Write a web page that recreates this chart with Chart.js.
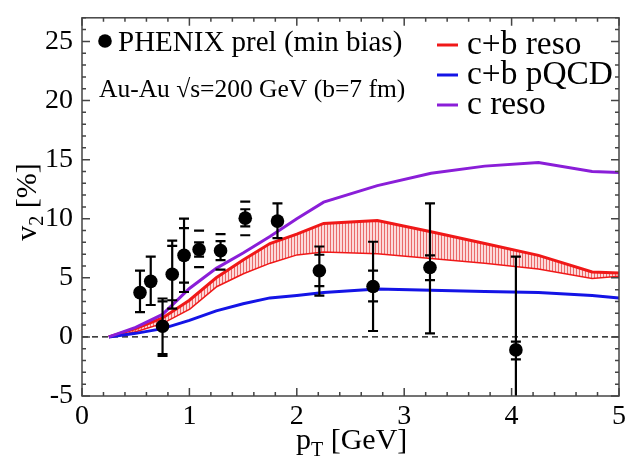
<!DOCTYPE html>
<html>
<head>
<meta charset="utf-8">
<script src="https://cdn.jsdelivr.net/npm/chart.js@4/dist/chart.umd.min.js"></script>
<style>
html, body { margin: 0; padding: 0; background: #fff; }
#wrap { width: 634px; height: 461px; }
</style>
</head>
<body>
<div id="wrap"><canvas id="c"></canvas></div>
<script>
// model curves (pT in GeV, v2 in %)
const curvePt = [0.25, 0.5, 0.75, 1.0, 1.25, 1.5, 1.75, 2.0, 2.25, 2.75, 3.25, 3.75, 4.25, 4.75, 5.0];
const cbResoUpper = [0, 0.7, 1.6, 3.1, 5.0, 6.5, 7.9, 8.7, 9.6, 9.85, 8.9, 7.9, 6.9, 5.5, 5.4];
const cbResoLower = [0, 0.5, 1.2, 2.4, 4.3, 5.4, 6.3, 7.0, 7.25, 7.1, 6.7, 6.3, 5.8, 5.0, 5.2];
const cbPqcd = [0, 0.3, 0.7, 1.4, 2.2, 2.8, 3.3, 3.5, 3.75, 4.05, 3.95, 3.85, 3.75, 3.5, 3.3];
const cReso = [0, 0.8, 1.9, 4.1, 5.8, 7.1, 8.5, 10.0, 11.4, 12.8, 13.85, 14.45, 14.75, 14.0, 13.9];

// PHENIX preliminary points
const dataPt = [0.54, 0.64, 0.75, 0.84, 0.95, 1.09, 1.29, 1.52, 1.82, 2.21, 2.71, 3.24, 4.04];
const dataV2 = [3.75, 4.7, 0.9, 5.3, 6.9, 7.4, 7.3, 10.05, 9.8, 5.6, 4.27, 5.87, -1.1];
const statLo = [2.1, 2.7, -1.45, 2.4, 3.8, 6.8, 6.5, 9.35, 8.35, 3.5, 0.5, 0.3, -8];
const statHi = [5.6, 6.8, 3.25, 8.15, 10.0, 8.0, 8.1, 10.8, 11.3, 7.65, 8.05, 11.3, 6.8];
const sysLo = [null, null, -1.6, 3.1, 4.6, 5.9, 5.7, 8.6, null, 4.3, 3.0, 4.8, -1.9];
const sysHi = [null, null, 3.0, 7.7, 9.2, 9.0, 8.7, 11.45, null, 6.95, 5.6, 6.9, -0.4];

const xTicks = [0, 1, 2, 3, 4, 5];
const yTicks = [-5, 0, 5, 10, 15, 20, 25];
const seriesNames = ['c+b reso', 'c+b pQCD', 'c reso'];
const dataName = 'PHENIX prel (min bias)';
const systemText = 'Au-Au √s=200 GeV (b=7 fm)';

const RED = '#f01818', BLUE = '#1414e6', PURPLE = '#8a1ed8';
const SERIF = '"Liberation Serif", "Times New Roman", serif';

const xy = (xs, ys) => xs.map((x, i) => ({ x, y: ys[i] }));

function hatch() {
    const c = document.createElement('canvas');
    c.width = 3; c.height = 2;
    const g = c.getContext('2d');
    g.fillStyle = '#fcdada';
    g.fillRect(0, 0, 3, 2);
    g.fillStyle = '#ea6a6a';
    g.fillRect(0, 0, 1, 2);
    return g.createPattern(c, 'repeat');
}

// font size that makes a string about w pixels wide
function fitFont(ctx, text, w) {
    ctx.font = '100px ' + SERIF;
    return Math.round(100 * w / ctx.measureText(text).width * 10) / 10;
}

const frame = {
    id: 'frame',
    beforeDatasetDraw(chart, args) {
        if (args.index !== 0) return;
        // error bars go under the dots
        const { ctx, chartArea: a, scales: { x, y } } = chart;
        ctx.save();
        ctx.beginPath();
        ctx.rect(a.left, a.top, a.right - a.left, a.bottom - a.top);
        ctx.clip();
        ctx.strokeStyle = '#000';
        ctx.lineWidth = 2.2;
        const cap = 5;
        dataPt.forEach((p, i) => {
            const px = x.getPixelForValue(p);
            const lo = y.getPixelForValue(statLo[i]), hi = y.getPixelForValue(statHi[i]);
            ctx.beginPath();
            ctx.moveTo(px, lo); ctx.lineTo(px, hi);
            ctx.moveTo(px - cap, lo); ctx.lineTo(px + cap, lo);
            ctx.moveTo(px - cap, hi); ctx.lineTo(px + cap, hi);
            if (sysLo[i] !== null) {
                const sl = y.getPixelForValue(sysLo[i]), sh = y.getPixelForValue(sysHi[i]);
                ctx.moveTo(px - cap, sl); ctx.lineTo(px + cap, sl);
                ctx.moveTo(px - cap, sh); ctx.lineTo(px + cap, sh);
            }
            ctx.stroke();
        });
        ctx.restore();
    },
    afterDraw(chart) {
        const { ctx, chartArea: a, scales: { x, y } } = chart;
        ctx.save();
        // frame + inward ticks on all sides
        ctx.strokeStyle = '#444';
        ctx.lineWidth = 1.5;
        ctx.strokeRect(a.left, a.top, a.right - a.left, a.bottom - a.top);
        ctx.beginPath();
        for (let v = 0; v <= 5.001; v += 0.2) {
            const px = x.getPixelForValue(v);
            const len = Math.abs(v - Math.round(v)) < 0.01 ? 8 : 4;
            ctx.moveTo(px, a.bottom); ctx.lineTo(px, a.bottom - len);
            ctx.moveTo(px, a.top); ctx.lineTo(px, a.top + len);
        }
        for (let v = -5; v <= 27; v++) {
            const py = y.getPixelForValue(v);
            const len = v % 5 === 0 ? 8 : 4;
            ctx.moveTo(a.left, py); ctx.lineTo(a.left + len, py);
            ctx.moveTo(a.right, py); ctx.lineTo(a.right - len, py);
        }
        ctx.stroke();

        // axis titles
        ctx.fillStyle = '#000';
        ctx.textBaseline = 'alphabetic';
        ctx.textAlign = 'left';
        const big = '30px ' + SERIF, small = '20px ' + SERIF;
        ctx.font = big;
        const wp = ctx.measureText('p').width;
        ctx.font = small;
        const wt = ctx.measureText('T').width;
        let tx = 296;
        const by = 449;
        ctx.font = big; ctx.fillText('p', tx, by); tx += wp;
        ctx.font = small; ctx.fillText('T', tx, by + 7); tx += wt;
        ctx.font = big; ctx.fillText(' [GeV]', tx, by);

        ctx.save();
        ctx.translate(36, 202);
        ctx.rotate(-Math.PI / 2);
        ctx.font = big;
        const wv = ctx.measureText('v').width, wr = ctx.measureText(' [%]').width;
        ctx.font = small;
        const w2 = ctx.measureText('2').width;
        let rx = -(wv + w2 + wr) / 2;
        ctx.font = big; ctx.fillText('v', rx, 0); rx += wv;
        ctx.font = small; ctx.fillText('2', rx, 7); rx += w2;
        ctx.font = big; ctx.fillText(' [%]', rx, 0);
        ctx.restore();

        // legends
        ctx.textBaseline = 'middle';
        ctx.fillStyle = '#000';
        ctx.beginPath();
        ctx.arc(105, 41, 6.8, 0, Math.PI * 2);
        ctx.fill();
        const f1 = fitFont(ctx, dataName, 284);
        ctx.font = f1 + 'px ' + SERIF;
        ctx.fillText(dataName, 118, 43);
        const f2 = fitFont(ctx, systemText, 306);
        ctx.font = f2 + 'px ' + SERIF;
        ctx.fillText(systemText, 99, 90);

        const cols = [RED, BLUE, PURPLE];
        const f3 = fitFont(ctx, seriesNames[1], 146);
        ctx.font = f3 + 'px ' + SERIF;
        seriesNames.forEach((n, i) => {
            const ly = 45 + i * 30;
            ctx.strokeStyle = cols[i];
            ctx.lineWidth = 3;
            ctx.beginPath();
            ctx.moveTo(437, ly); ctx.lineTo(458, ly);
            ctx.stroke();
            ctx.fillStyle = '#000';
            ctx.fillText(n, 467, ly);
        });
        ctx.restore();
    }
};

const line = (data, color, extra) => Object.assign({
    type: 'scatter', data, showLine: true, borderColor: color, borderWidth: 3,
    pointRadius: 0, tension: 0, fill: false
}, extra || {});

const ctxEl = document.getElementById('c');
new Chart(ctxEl, {
    type: 'scatter',
    data: {
        datasets: [
            {
                label: dataName,
                data: xy(dataPt, dataV2),
                pointRadius: 6.8,
                pointBackgroundColor: '#000',
                pointBorderColor: '#000',
                pointBorderWidth: 0,
                showLine: false
            },
            line(xy(curvePt, cReso), PURPLE, { label: seriesNames[2] }),
            line(xy(curvePt, cbPqcd), BLUE, { label: seriesNames[1] }),
            line(xy(curvePt, cbResoUpper), RED, { label: seriesNames[0], fill: '+1', backgroundColor: hatch() }),
            line(xy(curvePt, cbResoLower), RED, { label: seriesNames[0] + ' low' }),
            line([{ x: 0, y: 0 }, { x: 5, y: 0 }], '#000', { borderWidth: 1.3, borderDash: [6, 4], label: 'zero' })
        ]
    },
    options: {
        responsive: true,
        maintainAspectRatio: false,
        animation: false,
        layout: { padding: { left: 0, right: 15, top: 8, bottom: 0 } },
        plugins: { legend: { display: false }, tooltip: { enabled: false } },
        scales: {
            x: {
                type: 'linear', min: 0, max: 5,
                afterBuildTicks: s => { s.ticks = xTicks.map(v => ({ value: v })); },
                afterFit: s => { s.height = 65; },
                grid: { display: false },
                border: { display: false },
                ticks: { color: '#000', padding: -4, font: { family: SERIF, size: 28 } }
            },
            y: {
                type: 'linear', min: -5, max: 27,
                afterBuildTicks: s => { s.ticks = yTicks.map(v => ({ value: v })); },
                afterFit: s => { s.width = 82; },
                grid: { display: false },
                border: { display: false },
                ticks: { color: '#000', padding: 1, font: { family: SERIF, size: 28 } }
            }
        }
    },
    plugins: [frame]
});
</script>
</body>
</html>
